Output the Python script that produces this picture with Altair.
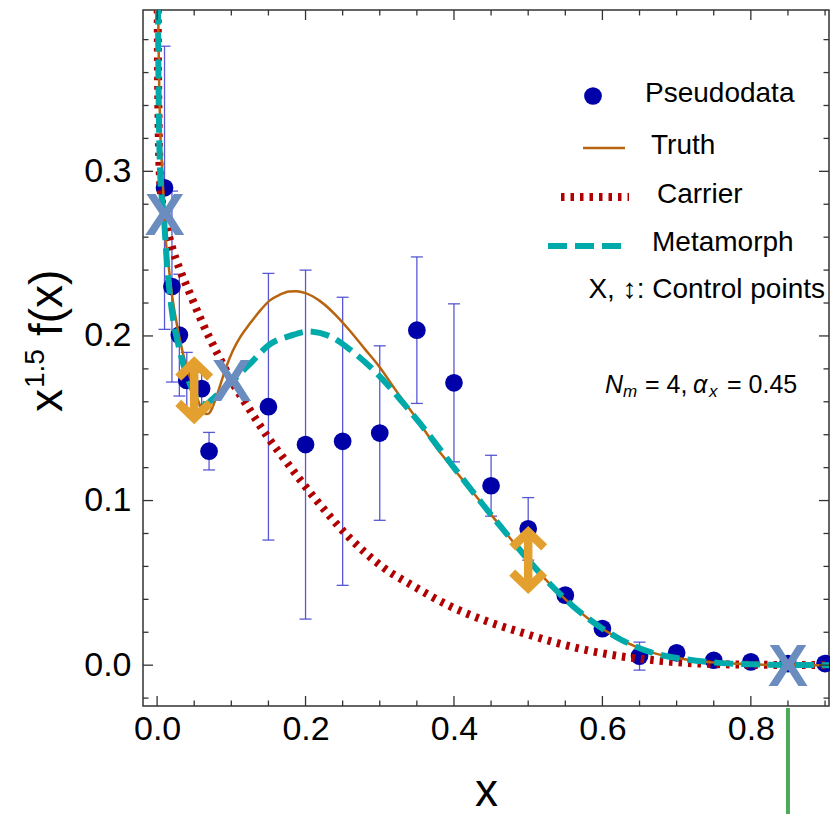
import altair as alt
import pandas as pd

# ---------------- data ----------------
# Pseudodata points with symmetric errors
data_x = [0.01, 0.02, 0.03, 0.04, 0.06, 0.07, 0.15, 0.20, 0.25, 0.30, 0.35, 0.40,
          0.45, 0.50, 0.55, 0.60, 0.65, 0.70, 0.75, 0.80, 0.85, 0.90]
data_y = [0.290, 0.230, 0.2005, 0.173, 0.168, 0.130, 0.157, 0.134, 0.136, 0.141, 0.2035, 0.1715,
          0.109, 0.0828, 0.0425, 0.0222, 0.0055, 0.0075, 0.003, 0.002, 0.001, 0.001]
data_err = [0.086, 0.058, 0.037, 0.017, 0.010, 0.0114, 0.081, 0.106, 0.0875, 0.053, 0.0445, 0.048,
            0.0185, 0.019, 0.004, 0.003, 0.0085, 0.002, 0.0015, 0.001, 0.001, 0.001]

# Truth curve
truth_x = [0.001, 0.0015, 0.004, 0.007, 0.011, 0.015, 0.02, 0.025, 0.034, 0.042, 0.048, 0.055,
           0.06, 0.066, 0.07, 0.073, 0.079, 0.085, 0.093, 0.102, 0.113, 0.125, 0.14, 0.152,
           0.165, 0.178, 0.1876, 0.2, 0.22, 0.24, 0.26, 0.28, 0.30, 0.32, 0.35, 0.38, 0.40,
           0.44, 0.476, 0.50, 0.53, 0.56, 0.579, 0.623, 0.668, 0.713, 0.758, 0.80, 0.85, 0.92]
truth_y = [0.46, 0.40, 0.33, 0.30, 0.262, 0.245, 0.225, 0.211, 0.191, 0.178, 0.170, 0.161,
           0.1555, 0.1526, 0.153, 0.155, 0.162, 0.170, 0.181, 0.191, 0.200, 0.2075, 0.216, 0.2216,
           0.225, 0.227, 0.2272, 0.226, 0.221, 0.213, 0.203, 0.192, 0.181, 0.168, 0.1495, 0.130, 0.119,
           0.097, 0.077, 0.064, 0.049, 0.036, 0.029, 0.016, 0.0075, 0.0035, 0.0014, 0.0005, 0.0001, 0.0]

# Carrier curve
carrier_x = [0.0005, 0.001, 0.002, 0.004, 0.008, 0.012, 0.02, 0.03, 0.044, 0.06, 0.085, 0.10,
             0.125, 0.15, 0.17, 0.215, 0.259, 0.304, 0.349, 0.394, 0.4435, 0.49, 0.533, 0.58,
             0.623, 0.67, 0.713, 0.76, 0.80, 0.92]
carrier_y = [0.45, 0.38, 0.33, 0.295, 0.277, 0.268, 0.254, 0.241, 0.226, 0.209, 0.186, 0.173,
             0.155, 0.138, 0.126, 0.100, 0.0775, 0.0596, 0.0471, 0.036, 0.0268, 0.020, 0.0142, 0.009,
             0.0055, 0.003, 0.0014, 0.0006, 0.0003, 0.0]

# Metamorph curve
meta_x = [0.0005, 0.002, 0.0045, 0.009, 0.0136, 0.02, 0.03, 0.04, 0.048, 0.055, 0.06, 0.066,
          0.073, 0.085, 0.10, 0.125, 0.152, 0.179, 0.2035, 0.233, 0.26, 0.2956, 0.332, 0.354,
          0.40, 0.44, 0.476, 0.50, 0.53, 0.56, 0.579, 0.623, 0.668, 0.713, 0.758, 0.80, 0.85, 0.92]
meta_y = [0.45, 0.35, 0.295, 0.273, 0.242, 0.215, 0.192, 0.176, 0.167, 0.161, 0.159, 0.1585,
          0.161, 0.166, 0.172, 0.183, 0.195, 0.200, 0.2027, 0.1998, 0.1917, 0.1775, 0.159, 0.147,
          0.12, 0.097, 0.077, 0.064, 0.049, 0.036, 0.029, 0.016, 0.0075, 0.0035, 0.0014, 0.0005, 0.0001, 0.0]

# Control points
ctrl_cross_x = [0.0104, 0.1003, 0.85]
ctrl_cross_y = [0.274, 0.1734, 0.0]
ctrl_arrow_x = [0.05, 0.50]
ctrl_arrow_y = [0.167, 0.0639]

# Frame tick values
x_major = [0.0, 0.2, 0.4, 0.6, 0.8]
x_minor = [0.05, 0.1, 0.15, 0.25, 0.3, 0.35, 0.45, 0.5, 0.55, 0.65, 0.7, 0.75, 0.85, 0.9]
y_major = [0.0, 0.1, 0.2, 0.3]
y_minor = [-0.02, 0.02, 0.04, 0.06, 0.08, 0.12, 0.14, 0.16, 0.18, 0.22, 0.24, 0.26, 0.28,
           0.32, 0.34, 0.36, 0.38]
marker_line_x = [0.85]

# ---------------- tables ----------------
df_pts = pd.DataFrame({"x": data_x, "y": data_y, "err": data_err})
df_pts["lo"] = df_pts["y"] - df_pts["err"]
df_pts["hi"] = df_pts["y"] + df_pts["err"]
df_caps = pd.DataFrame({"x": data_x * 2, "y": list(df_pts["lo"]) + list(df_pts["hi"])})
df_truth = pd.DataFrame({"x": truth_x, "y": truth_y})
df_carrier = pd.DataFrame({"x": carrier_x, "y": carrier_y})
df_meta = pd.DataFrame({"x": meta_x, "y": meta_y})
df_cross = pd.DataFrame({"x": ctrl_cross_x, "y": ctrl_cross_y})
df_arrow = pd.DataFrame({"x": ctrl_arrow_x, "y": ctrl_arrow_y})
df_xmaj = pd.DataFrame({"x": x_major})
df_xmin = pd.DataFrame({"x": x_minor})
df_ymaj = pd.DataFrame({"y": y_major})
df_ymin = pd.DataFrame({"y": y_minor})
df_green = pd.DataFrame({"x": marker_line_x})
dummy = pd.DataFrame({"a": [0]})

W, H = 686, 696
FONT = "Liberation Sans"
BLUE = "#0000A8"
EBAR = "#3C3CCC"
TRUTH_C = "#B8630F"
CARR_C = "#B00000"
META_C = "#00AAAA"
CROSS_C = "#6A8CBF"
ARROW_C = "#E3A02F"
CARR_DASH = [3.5, 6]
META_DASH = [19, 8]

xs = alt.Scale(domain=[-0.019, 0.9053], nice=False, zero=False)
ys = alt.Scale(domain=[-0.0248, 0.398], nice=False, zero=False)

x_axis = alt.Axis(values=x_major, format=".1f", ticks=False, domain=False, grid=False,
                  labelFont=FONT, labelFontSize=34, labelColor="black", labelPadding=6,
                  title="x", titleFont=FONT, titleFontSize=46, titleFontWeight="normal",
                  titleColor="black", titlePadding=23)
y_axis = alt.Axis(values=y_major, format=".1f", ticks=False, domain=False, grid=False,
                  labelFont=FONT, labelFontSize=34, labelColor="black", labelPadding=12,
                  title="")


def X(field):
    return alt.X(field, type="quantitative", scale=xs, axis=x_axis, title="x")


def Y(field):
    return alt.Y(field, type="quantitative", scale=ys, axis=y_axis, title="")


layers = []

# error bars
layers.append(alt.Chart(df_pts).mark_rule(color=EBAR, strokeWidth=1.3, opacity=0.85)
              .encode(x=X("x"), y=Y("lo"), y2="hi"))
layers.append(alt.Chart(df_caps).mark_tick(color=EBAR, orient="horizontal", size=12,
                                           thickness=1.3, opacity=0.85)
              .encode(x=X("x"), y=Y("y")))
# points
layers.append(alt.Chart(df_pts).mark_circle(size=314, color=BLUE, opacity=1)
              .encode(x=X("x"), y=Y("y")))
# carrier
layers.append(alt.Chart(df_carrier).mark_line(color=CARR_C, strokeWidth=8, strokeDash=CARR_DASH,
                                              clip=True, interpolate="monotone")
              .encode(x=X("x"), y=Y("y")))
# truth
layers.append(alt.Chart(df_truth).mark_line(color=TRUTH_C, strokeWidth=2.5, clip=True,
                                            interpolate="monotone")
              .encode(x=X("x"), y=Y("y")))
# metamorph
layers.append(alt.Chart(df_meta).mark_line(color=META_C, strokeWidth=6, strokeDash=META_DASH,
                                           clip=True, interpolate="monotone")
              .encode(x=X("x"), y=Y("y")))
# control crosses
layers.append(alt.Chart(df_cross).mark_text(text="X", font=FONT, fontSize=60, fontWeight="bold",
                                            color=CROSS_C, baseline="middle", dy=3)
              .encode(x=X("x"), y=Y("y")))
# control arrows
arrow_path = "M0,-1L0,1M-0.57,-0.45L0,-1L0.57,-0.45M-0.57,0.45L0,1L0.57,0.45"
layers.append(alt.Chart(df_arrow).mark_point(shape=arrow_path, size=3136, filled=False,
                                             color=ARROW_C, strokeWidth=8.5, opacity=1,
                                             strokeJoin="miter")
              .encode(x=X("x"), y=Y("y")))

# inward frame ticks
TK = "#333333"
layers.append(alt.Chart(df_xmaj).mark_rule(color=TK, strokeWidth=1.3)
              .encode(x=X("x"), y=alt.value(H), y2=alt.value(H - 10)))
layers.append(alt.Chart(df_xmin).mark_rule(color=TK, strokeWidth=1.3)
              .encode(x=X("x"), y=alt.value(H), y2=alt.value(H - 5.5)))
layers.append(alt.Chart(df_xmaj).mark_rule(color=TK, strokeWidth=1.3)
              .encode(x=X("x"), y=alt.value(0), y2=alt.value(10)))
layers.append(alt.Chart(df_xmin).mark_rule(color=TK, strokeWidth=1.3)
              .encode(x=X("x"), y=alt.value(0), y2=alt.value(5.5)))
layers.append(alt.Chart(df_ymaj).mark_rule(color=TK, strokeWidth=1.3)
              .encode(y=Y("y"), x=alt.value(0), x2=alt.value(10)))
layers.append(alt.Chart(df_ymin).mark_rule(color=TK, strokeWidth=1.3)
              .encode(y=Y("y"), x=alt.value(0), x2=alt.value(5.5)))
layers.append(alt.Chart(df_ymaj).mark_rule(color=TK, strokeWidth=1.3)
              .encode(y=Y("y"), x=alt.value(W), x2=alt.value(W - 10)))
layers.append(alt.Chart(df_ymin).mark_rule(color=TK, strokeWidth=1.3)
              .encode(y=Y("y"), x=alt.value(W), x2=alt.value(W - 5.5)))

# green marker below the axis
layers.append(alt.Chart(df_green).mark_rule(color="#4CAA58", strokeWidth=4)
              .encode(x=X("x"), y=alt.value(H + 2), y2=alt.value(H + 120)))


def txt(s, x, y, size, **kw):
    params = dict(text=s, font=FONT, fontSize=size, color="black", align="left",
                  baseline="middle")
    params.update(kw)
    return alt.Chart(dummy).mark_text(**params).encode(x=alt.value(x), y=alt.value(y))


# legend
layers.append(alt.Chart(dummy).mark_circle(size=314, color=BLUE, opacity=1)
              .encode(x=alt.value(450), y=alt.value(86)))
layers.append(txt("Pseudodata", 502, 84, 28))
layers.append(alt.Chart(dummy).mark_rule(color=TRUTH_C, strokeWidth=2.5)
              .encode(x=alt.value(440), x2=alt.value(482), y=alt.value(138)))
layers.append(txt("Truth", 508, 136, 28))
layers.append(alt.Chart(dummy).mark_rule(color=CARR_C, strokeWidth=8, strokeDash=CARR_DASH)
              .encode(x=alt.value(418), x2=alt.value(486), y=alt.value(187)))
layers.append(txt("Carrier", 514, 185, 28))
layers.append(alt.Chart(dummy).mark_rule(color=META_C, strokeWidth=6, strokeDash=META_DASH)
              .encode(x=alt.value(405), x2=alt.value(480), y=alt.value(236)))
layers.append(txt("Metamorph", 509, 233, 28))
layers.append(txt("X, \u2195: Control points", 682, 280, 28, align="right"))

# parameter note
layers.append(txt("N", 462, 375, 25, fontStyle="italic"))
layers.append(txt("m", 480, 382, 17, fontStyle="italic"))
layers.append(txt("= 4,", 502, 375, 25))
layers.append(txt("\u03b1", 550, 375, 25, fontStyle="italic"))
layers.append(txt("x", 566, 382, 17, fontStyle="italic"))
layers.append(txt("= 0.45", 584, 375, 25))

# y-axis title  x^{1.5} f(x)
layers.append(txt("x", -81, 402, 46, angle=270, baseline="alphabetic"))
layers.append(txt("1.5", -99, 378, 28, angle=270, baseline="alphabetic"))
layers.append(txt("f(x)", -81, 326, 46, angle=270, baseline="alphabetic"))

chart = (alt.layer(*layers)
         .properties(width=W, height=H,
                     autosize=alt.AutoSizeParams(type="none"),
                     padding={"left": 135, "top": 2, "right": 1, "bottom": 108})
         .configure_view(stroke="#333333", strokeWidth=1.5))

chart.save("out.html", embed_options={"renderer": "svg", "actions": False})
